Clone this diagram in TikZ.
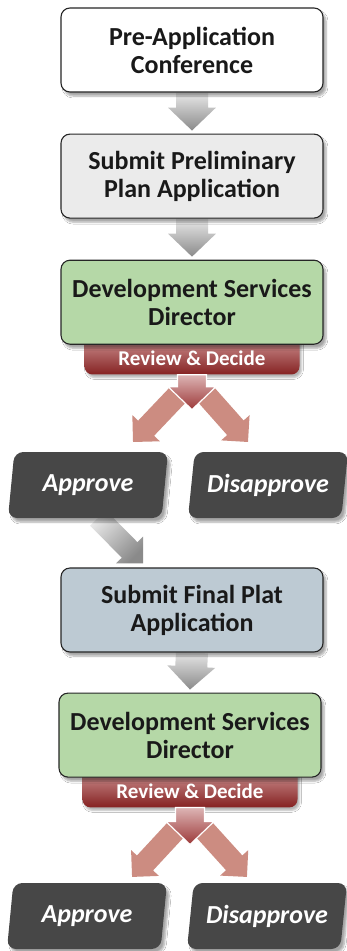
\documentclass[tikz,border=0pt]{standalone}
\usepackage{fontspec}
\setmainfont{Carlito}
\usetikzlibrary{positioning,arrows.meta,calc,backgrounds,shapes.geometric,shadows.blur}
\definecolor{boxline}{HTML}{262626}
\definecolor{prelimgrey}{HTML}{EBEBEB}
\definecolor{dirgreen}{HTML}{B5D8A7}
\definecolor{platblue}{HTML}{BDCAD3}
\definecolor{outcomegrey}{HTML}{474747}
\definecolor{reviewtop}{HTML}{D29A9A}
\definecolor{reviewbot}{HTML}{852222}
\definecolor{redtop}{HTML}{DDB5B5}
\definecolor{redbot}{HTML}{9C3838}
\definecolor{salmon}{HTML}{CC8C81}
\definecolor{flowtop}{HTML}{E8E8E8}
\definecolor{flowbot}{HTML}{8A8A8A}
\tikzset{
  stepbox/.style    = {draw=boxline, line width=1.1pt, fill=white, rounded corners=9pt,
                       align=center, minimum width=262pt, minimum height=84pt,
                       text=black!90, font=\fontsize{26}{28}\selectfont\bfseries,
                       blur shadow={shadow xshift=3pt, shadow yshift=-4pt,
                                    shadow opacity=35, shadow blur steps=6}},
  decide/.style     = {rounded corners=8pt, top color=reviewtop, bottom color=reviewbot,
                       text=white, minimum width=215pt, inner ysep=0pt,
                       text height=31pt, text depth=8.5pt,
                       font=\fontsize{21}{24}\selectfont\bfseries,
                       blur shadow={shadow xshift=2pt, shadow yshift=-3pt, shadow opacity=30}},
  outcomebox/.style = {trapezium, trapezium left angle=77, trapezium right angle=103,
                       trapezium stretches body, minimum width=160pt, minimum height=66pt,
                       rounded corners=9pt, fill=outcomegrey, text=white,
                       font=\fontsize{26}{28}\selectfont\bfseries\itshape,
                       blur shadow={shadow xshift=3pt, shadow yshift=-4pt,
                                    shadow opacity=35, shadow blur steps=6}},
  blockflow/.style  = {to path={
      let \p1=(\tikztostart), \p2=(\tikztotarget),
          \n1={atan2(\y2-\y1,\x2-\x1)}, \n2={veclen(\x2-\x1,\y2-\y1)}
      in {[shift={(\p1)}, rotate=\n1]
          (0pt,\arrw) -- (\n2-\arrl,\arrw) -- (\n2-\arrl,\arrh) -- (\n2,0pt)
          -- (\n2-\arrl,-\arrh) -- (\n2-\arrl,-\arrw) -- (0pt,-\arrw) -- cycle}}},
  grayflow/.style   = {blockflow, top color=flowtop, bottom color=flowbot,
                       /utils/exec={\def\arrw{16pt}\def\arrh{24pt}\def\arrl{23pt}}},
  slantflow/.style  = {blockflow, top color=flowtop, bottom color=flowbot, shading angle=45,
                       /utils/exec={\def\arrw{11pt}\def\arrh{19pt}\def\arrl{19pt}}},
  redflow/.style    = {blockflow, top color=redtop, bottom color=redbot,
                       draw=white, line width=1.2pt,
                       /utils/exec={\def\arrw{14.5pt}\def\arrh{24pt}\def\arrl{23pt}}},
  splitflow/.style  = {blockflow, fill=salmon,
                       /utils/exec={\def\arrw{11pt}\def\arrh{19pt}\def\arrl{19pt}}},
}
\begin{document}
\begin{tikzpicture}[x=1pt, y=-1pt]
  \useasboundingbox (0,0) rectangle (347,951);

  % preliminary plan
  \node[stepbox] (pre) at (192,50) {Pre-Application\\Conference};
  \node[stepbox, fill=prelimgrey, below=41pt of pre] (prelim) {Submit Preliminary\\Plan Application};
  \node[stepbox, fill=dirgreen, below=41pt of prelim] (dir1) {Development Services\\Director};
  \node[outcomebox] (appr1)  at (88,485)  {Approve};
  \node[outcomebox] (disap1) at (268,485) {Disapprove};

  % final plat
  \node[stepbox, fill=platblue] (final) at (192,610) {Submit Final Plat\\Application};
  \node[stepbox, fill=dirgreen, below=40pt of final, xshift=-2pt] (dir2) {Development Services\\Director};
  \node[outcomebox] (appr2)  at (87,916)  {Approve};
  \node[outcomebox] (disap2) at (267,916) {Disapprove};

  \begin{scope}[on background layer]
    \fill[white] (0,0) rectangle (347,951);
    \node[decide, below=-10pt of dir1] (rev1) {Review \& Decide};
    \node[decide, below=-10pt of dir2] (rev2) {Review \& Decide};
    \coordinate (split1) at ([yshift=-35pt]rev1.south);
    \coordinate (split2) at ([yshift=-37pt]rev2.south);

    \shade[grayflow] (pre.south) to ([yshift=3pt]prelim.north);
    \shade[grayflow] (prelim.south) to ([yshift=3pt]dir1.north);
    \fill[splitflow] ([shift={(-14pt,15pt)}]split1) to ([shift={(45pt,43pt)}]appr1.center);
    \fill[splitflow] ([shift={(14pt,15pt)}]split1) to ([shift={(-20pt,43pt)}]disap1.center);
    \shadedraw[redflow] (rev1.south) to (split1);
    \shade[slantflow] ([shift={(10pt,-33pt)}]appr1.center) to ([shift={(-49pt,4pt)}]final.north);

    \shade[grayflow] (final.south) to ([yshift=3pt]dir2.north);
    \fill[splitflow] ([shift={(-14pt,15pt)}]split2) to ([shift={(45pt,39pt)}]appr2.center);
    \fill[splitflow] ([shift={(14pt,15pt)}]split2) to ([shift={(-20pt,39pt)}]disap2.center);
    \shadedraw[redflow] (rev2.south) to (split2);
  \end{scope}
\end{tikzpicture}
\end{document}
